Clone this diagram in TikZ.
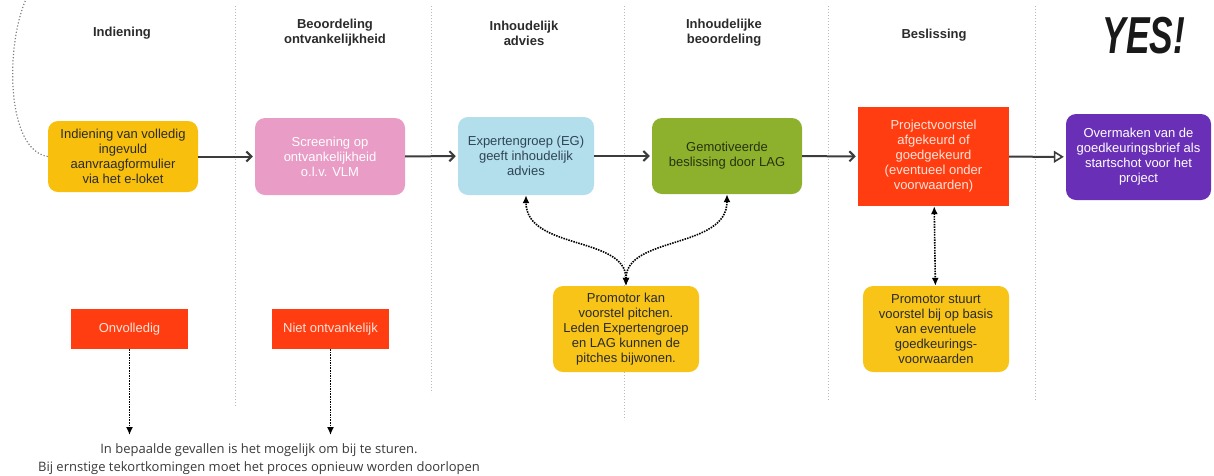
\documentclass[tikz,border=0pt]{standalone}
\usepackage{fontspec}
\setmainfont{Liberation Sans}
\newfontfamily\notefont{Open Sans}
\usepackage{tikz}
\usetikzlibrary{arrows.meta,positioning}
\definecolor{indyellow}{HTML}{F8C00C}
\definecolor{promyellow}{HTML}{F7C417}
\definecolor{screenpink}{HTML}{E99CC6}
\definecolor{advblue}{HTML}{B3DEEB}
\definecolor{advtext}{HTML}{2E4656}
\definecolor{lagreen}{HTML}{8DB12D}
\definecolor{lagtext}{HTML}{27330E}
\definecolor{decred}{HTML}{FF3D11}
\definecolor{lightred}{HTML}{FFE3D9}
\definecolor{yespurple}{HTML}{6A2FB7}
\definecolor{darktext}{HTML}{2B2B2B}
\definecolor{notetext}{HTML}{3A3A3A}
\definecolor{flowgray}{HTML}{3C3C3C}
\definecolor{lanegray}{HTML}{B8B8B8}
\begin{document}
\begin{tikzpicture}[x=1pt, y=-1pt, >={Straight Barb[length=5pt,width=10pt]},
    every node/.style={font=\fontsize{13}{15}\selectfont, align=center, inner sep=2pt},
    box/.style={rounded corners=10pt, minimum width=150pt, minimum height=76pt},
    redbox/.style={fill=decred, text=lightred},
    promo/.style={box, fill=promyellow, text=darktext, minimum width=146pt, minimum height=86pt},
    head/.style={font=\fontsize{13}{15}\selectfont\bfseries, text=darktext},
    flow/.style={->, draw=flowgray, line width=2pt, shorten >=2pt},
    link/.style={{Latex[length=8pt,width=7pt]}-{Latex[length=8pt,width=7pt]}, dash pattern=on 1.5pt off 1.1pt, line width=1.6pt},
    lane/.style={draw=lanegray, dotted, line width=1pt}
    ]
\useasboundingbox (0,0) rectangle (1214,475);
\foreach \x/\y in {235/407, 431/393, 624/420, 828/400, 1035/400}
    \draw[lane] (\x,6) -- (\x,\y);

\node[head] (h1) at (122,33) {Indiening};
\node[head] (h2) at (335,33) {Beoordeling\\ontvankelijkheid};
\node[head] (h3) at (524,33) {Inhoudelijk\\advies};
\node[head] (h4) at (724,33) {Inhoudelijke\\beoordeling};
\node[head] (h5) at (934,35) {Beslissing};
\node[font=\fontsize{52}{52}\selectfont\bfseries\itshape, text=black!90, xscale=0.68] (yes) at (1144,36) {YES!};

\node[box, fill=indyellow, text=darktext, minimum height=71pt] (indien) at (123,156.5) {Indiening van volledig\\ingevuld\\aanvraagformulier\\via het e-loket};
\node[box, fill=screenpink, text=white, minimum height=77pt] (screen) at (330,156.5) {Screening op\\ontvankelijkheid\\o.l.v. VLM};
\node[box, fill=advblue, text=advtext, minimum width=136pt, minimum height=78pt] (advies) at (526,156) {Expertengroep (EG)\\geeft inhoudelijk\\advies};
\node[box, fill=lagreen, text=lagtext] (lag) at (727,156) {Gemotiveerde\\beslissing door LAG};
\node[redbox, minimum width=151pt, minimum height=99pt] (besl) at (933.5,156.5) {Projectvoorstel\\afgekeurd of\\goedgekeurd\\(eventueel onder\\voorwaarden)};
\node[box, fill=yespurple, text=white, minimum width=145pt, minimum height=86pt] (brief) at (1138.5,157) {Overmaken van de\\goedkeuringsbrief als\\startschot voor het\\project};

\node[promo] (pitch) at (626,329) {Promotor kan\\voorstel pitchen.\\Leden Expertengroep\\en LAG kunnen de\\pitches bijwonen.};
\node[promo] (bijsturen) at (936,329) {Promotor stuurt\\voorstel bij op basis\\van eventuele\\goedkeurings-\\voorwaarden};

\node[redbox, minimum width=117pt, minimum height=40pt] (onvol) at (129.5,329) {Onvolledig};
\node[redbox, minimum width=117pt, minimum height=40pt] (nietont) at (330.5,329) {Niet ontvankelijk};
\node[font=\notefont\fontsize{13}{18.5}\selectfont, text=notetext] (note) at (259,459) {In bepaalde gevallen is het mogelijk om bij te sturen.\\Bij ernstige tekortkomingen moet het proces opnieuw worden doorlopen};

\path
(indien) edge[flow] (screen)
(screen) edge[flow] (advies)
(advies) edge[flow] (lag)
(lag)    edge[flow] (besl)
(besl)   edge[link] (bijsturen)
;
\draw[draw=flowgray, line width=2pt, shorten >=2pt, -{Triangle[open, length=10pt, width=12pt, line width=1.6pt]}] (besl) -- (brief);
\draw[link] (pitch.north) .. controls +(0,-50) and +(0,55) .. (advies.south);
\draw[link] (pitch.north) .. controls +(0,-50) and +(0,55) .. (lag.south);
\draw[link, -{Latex[length=8pt,width=7pt]}, shorten >=6pt] (onvol.south) -- (onvol.south |- note.north);
\draw[link, -{Latex[length=8pt,width=7pt]}, shorten >=6pt] (nietont.south) -- (nietont.south |- note.north);
\draw[lane, draw=gray, line width=1.2pt] (indien.west) .. controls (5,150) and (5,40) .. (28,-5);
\end{tikzpicture}
\end{document}
